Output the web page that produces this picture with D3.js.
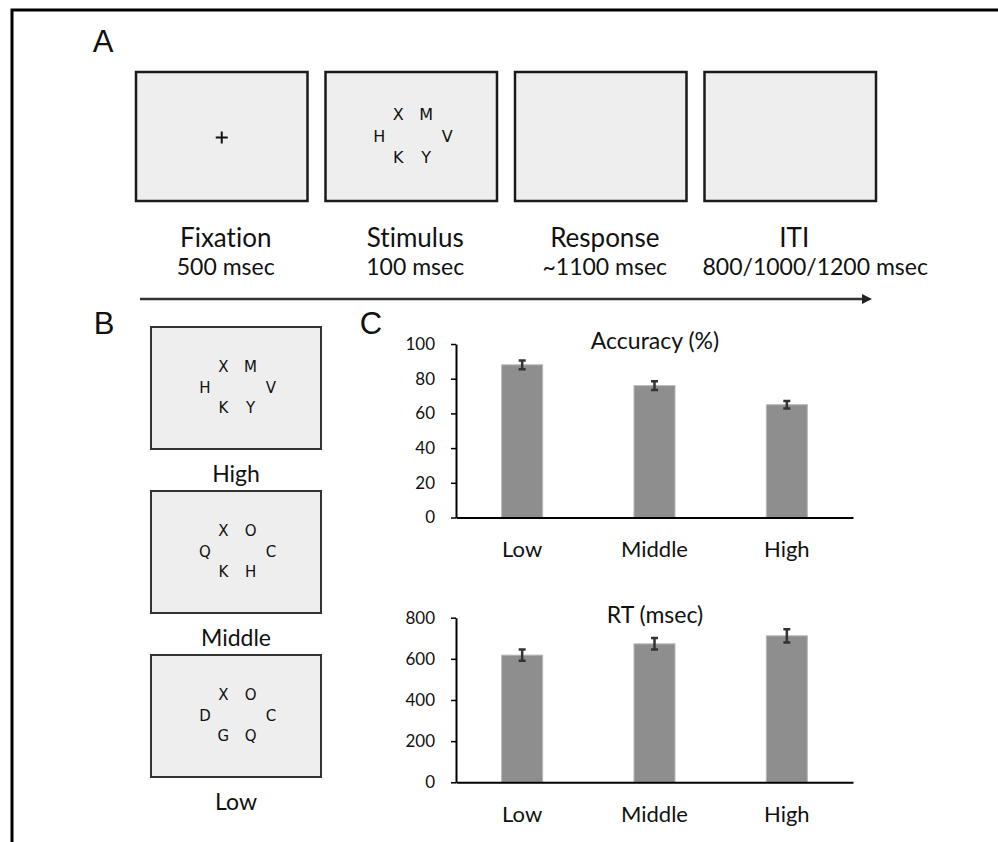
<!DOCTYPE html>
<html>
<head>
<meta charset="utf-8">
<script src="https://cdn.jsdelivr.net/npm/d3@7"></script>
<style>
  body { margin: 0; background: #fff; }
  svg text { font-family: Lato, "Open Sans", sans-serif; fill: #111; font-variant-ligatures: none; }
</style>
</head>
<body>
<div id="figure"></div>
<script>
// panel A: trial sequence
const stages = ['Fixation', 'Stimulus', 'Response', 'ITI']
const stageTimes = ['500 msec', '100 msec', '~1100 msec', '800/1000/1200 msec']
// letters in order: top-left, top-right, left, right, bottom-left, bottom-right
const stimulusLetters = ['X', 'M', 'H', 'V', 'K', 'Y']

// panel B: similarity levels
const loadLevels = ['High', 'Middle', 'Low']
const loadLetters = [
    ['X', 'M', 'H', 'V', 'K', 'Y'],
    ['X', 'O', 'Q', 'C', 'K', 'H'],
    ['X', 'O', 'D', 'C', 'G', 'Q']
]

// panel C: results
const conditions = ['Low', 'Middle', 'High']
const accuracyMean = [88, 76, 65]
const accuracyErr = [2.5, 2.5, 2.2]
const accuracyTicks = [0, 20, 40, 60, 80, 100]
const rtMean = [618, 673, 712]
const rtErr = [27, 28, 32]
const rtTicks = [0, 200, 400, 600, 800]

const width = 998
const height = 842

const svg = d3.select('#figure')
    .append('svg')
    .attr('width', width)
    .attr('height', height)

// outer frame (top and left only)
svg.append('path')
    .attr('d', 'M12,842 L12,10 L998,10')
    .attr('fill', 'none')
    .attr('stroke', '#000')
    .attr('stroke-width', 3)

// panel letters
const panelLabel = (txt, x, y) => {
    svg.append('text')
        .attr('x', x)
        .attr('y', y)
        .attr('text-anchor', 'middle')
        .style('font-family', '"Liberation Sans", Arial, sans-serif')
        .style('font-size', '31px')
        .text(txt)
}
panelLabel('A', 103, 52)
panelLabel('B', 104, 334)
panelLabel('C', 371, 334)

// letter layout around the box centre
const slots = [[-13, -22], [15, -22], [-32, 0], [36, 0], [-13, 21], [15, 21]]

const drawLetters = (g, letters, cx, cy, scale, size) => {
    g.selectAll('.letter')
        .data(letters)
        .enter()
        .append('text')
            .attr('class', 'letter')
            .attr('x', (d, i) => cx + slots[i][0] * scale)
            .attr('y', (d, i) => cy + slots[i][1] * scale)
            .attr('text-anchor', 'middle')
            .attr('dominant-baseline', 'central')
            .style('font-family', '"DejaVu Sans", Verdana, sans-serif')
            .style('font-size', size + 'px')
            .text(d => d)
}

// ---------- panel A ----------
const stageScale = d3.scaleBand()
    .domain(stages)
    .range([136, 876])
    .paddingInner(0.095)

const boxTop = 72
const boxH = 129

const stageG = svg.append('g')

stages.forEach((s, i) => {
    const x0 = stageScale(s)
    const bw = stageScale.bandwidth()
    const cx = x0 + bw / 2
    const cy = boxTop + boxH / 2
    const g = stageG.append('g')

    g.append('rect')
        .attr('x', x0)
        .attr('y', boxTop)
        .attr('width', bw)
        .attr('height', boxH)
        .attr('fill', '#eeeeee')
        .attr('stroke', '#1a1a1a')
        .attr('stroke-width', 2.5)

    if (i === 0) {
        g.append('path')
            .attr('d', `M${cx - 6},${cy + 1} h12 M${cx},${cy - 5} v12`)
            .attr('stroke', '#111')
            .attr('stroke-width', 2)
    }
    if (i === 1) {
        drawLetters(g, stimulusLetters, cx, cy, 1, 16)
    }

    g.append('text')
        .attr('x', cx + 4)
        .attr('y', boxTop + boxH + 46)
        .attr('text-anchor', 'middle')
        .style('font-size', '26px')
        .text(s)

    // the long ITI time label starts at the box edge instead of being centred
    const last = i === stages.length - 1
    g.append('text')
        .attr('x', last ? x0 - 2 : cx + 4)
        .attr('y', boxTop + boxH + 74)
        .attr('text-anchor', last ? 'start' : 'middle')
        .style('font-size', '23px')
        .text(stageTimes[i])
})

// time arrow
svg.append('defs')
    .append('marker')
    .attr('id', 'arrow')
    .attr('viewBox', '0 0 10 10')
    .attr('refX', 2)
    .attr('refY', 5)
    .attr('markerWidth', 4)
    .attr('markerHeight', 4)
    .attr('orient', 'auto')
    .append('path')
        .attr('d', 'M0,0 L10,5 L0,10 Z')
        .attr('fill', '#222')

svg.append('line')
    .attr('x1', 140)
    .attr('x2', 864)
    .attr('y1', 299)
    .attr('y2', 299)
    .attr('stroke', '#333')
    .attr('stroke-width', 2.5)
    .attr('marker-end', 'url(#arrow)')

// ---------- panel B ----------
const levelScale = d3.scaleBand()
    .domain(loadLevels)
    .range([327, 777])
    .paddingInner(0.256)

const boxL = 151
const boxW = 170

loadLevels.forEach((lvl, i) => {
    const y0 = levelScale(lvl)
    const bh = levelScale.bandwidth()
    const cx = boxL + boxW / 2
    const g = svg.append('g')

    g.append('rect')
        .attr('x', boxL)
        .attr('y', y0)
        .attr('width', boxW)
        .attr('height', bh)
        .attr('fill', '#eeeeee')
        .attr('stroke', '#333')
        .attr('stroke-width', 2)

    drawLetters(g, loadLetters[i], cx, y0 + bh / 2, 0.97, 15)

    g.append('text')
        .attr('x', cx)
        .attr('y', y0 + bh + 33)
        .attr('text-anchor', 'middle')
        .style('font-size', '23px')
        .text(lvl)
})

// ---------- panel C ----------
const xScale = d3.scaleBand()
    .domain(conditions)
    .range([456, 853])
    .paddingInner(0.69)
    .paddingOuter(0.345)

const plotBars = (means, errs, ticks, yMax, top, bottom, title) => {

    const yScale = d3.scaleLinear()
        .domain([0, yMax])
        .range([bottom, top])

    const g = svg.append('g')

    // bars
    g.selectAll('.bar')
        .data(means)
        .enter()
        .append('rect')
            .attr('class', 'bar')
            .attr('x', (d, i) => xScale(conditions[i]))
            .attr('y', d => yScale(d))
            .attr('width', xScale.bandwidth())
            .attr('height', d => bottom - yScale(d))
            .attr('fill', '#8e8e8e')
            .attr('stroke', '#b8b8b8')
            .attr('stroke-width', 1)

    // error bars
    const eb = g.selectAll('.err')
        .data(means)
        .enter()
        .append('g')
            .attr('class', 'err')
            .attr('transform', (d, i) => `translate(${xScale(conditions[i]) + xScale.bandwidth() / 2},0)`)

    eb.append('path')
        .attr('d', (d, i) => {
            const y1 = yScale(d + errs[i])
            const y2 = yScale(d - errs[i])
            return `M-3.5,${y1} h7 M0,${y1} V${y2} M-3.5,${y2} h7`
        })
        .attr('fill', 'none')
        .attr('stroke', '#333')
        .attr('stroke-width', 2.5)

    // y axis
    const yAxis = d3.axisLeft(yScale)
        .tickValues(ticks)
        .tickSize(5)
        .tickSizeOuter(0)
        .tickPadding(16)

    const yGroup = g.append('g')
        .attr('transform', 'translate(456,0)')
        .call(yAxis)

    yGroup.select('.domain').attr('stroke', '#000').attr('stroke-width', 2)
    yGroup.selectAll('.tick line').attr('stroke', '#000').attr('stroke-width', 1.5)
    yGroup.selectAll('.tick text')
        .style('font-family', 'Lato, sans-serif')
        .style('font-size', '17px')
        .attr('fill', '#111')

    // x axis
    const xAxis = d3.axisBottom(xScale)
        .tickSize(0)
        .tickSizeOuter(0)
        .tickPadding(24)

    const xGroup = g.append('g')
        .attr('transform', `translate(0,${bottom})`)
        .call(xAxis)

    xGroup.select('.domain').attr('stroke', '#000').attr('stroke-width', 2)
    xGroup.selectAll('.tick text')
        .style('font-family', 'Lato, sans-serif')
        .style('font-size', '22px')
        .attr('fill', '#111')

    // title
    g.append('text')
        .attr('x', 655)
        .attr('y', top + 5)
        .attr('text-anchor', 'middle')
        .style('font-size', '23px')
        .text(title)
}

plotBars(accuracyMean, accuracyErr, accuracyTicks, 100, 344, 517.5, 'Accuracy (%)')
plotBars(rtMean, rtErr, rtTicks, 800, 617.7, 782.3, 'RT (msec)')
</script>
</body>
</html>
